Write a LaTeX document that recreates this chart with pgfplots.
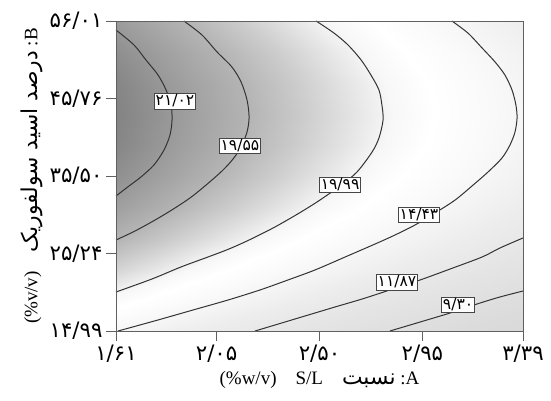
\documentclass[border=0pt]{standalone}
\usepackage{fontspec}
\setmainfont{Liberation Serif}
\newfontfamily\fa[Script=Arabic, Scale=1.15]{DejaVu Sans}
\usepackage{pgfplots}
\pgfplotsset{compat=1.18}
\TeXXeTstate=1
\tikzset{clabel/.style={fill=white, draw=gray!55!black, line width=0.6pt,
    inner sep=1.4pt, font=\fa\fontsize{13.5}{15}\selectfont}}

\begin{document}
\begin{tikzpicture}
\begin{axis}[
    width=407pt, height=310pt, scale only axis,
    xmin=1.61, xmax=3.39, ymin=14.99, ymax=56.01,
    xtick={1.61,2.05,2.50,2.95,3.39},
    xticklabels={۱/۶۱,۲/۰۵,۲/۵۰,۲/۹۵,۳/۳۹},
    ytick={14.99,25.24,35.50,45.76,56.01},
    yticklabels={۱۴/۹۹,۲۵/۲۴,۳۵/۵۰,۴۵/۷۶,۵۶/۰۱},
    ticklabel style={font=\fa\fontsize{18.5}{20}\selectfont},
    tick align=outside, tick pos=left, major tick length=10pt,
    axis line style={gray!75!black, line width=0.8pt},
    tick style={gray!75!black, line width=0.8pt},
    axis on top,
    xlabel={(\%w/v)\quad S/L\quad{\fa\beginR نسبت\endR} :A},
    ylabel={(\%v/v)\quad{\fa\beginR درصد اسید سولفوریک\endR} :B},
    label style={font=\fontsize{19}{21}\selectfont},
    xlabel style={yshift=-2pt},
    colormap={cgray}{gray(0cm)=(0.85); gray(1.5cm)=(0.86); gray(4.5cm)=(0.895);
      gray(6.5cm)=(0.93); gray(8.5cm)=(0.98); gray(9.5cm)=(1); gray(10.3cm)=(0.97);
      gray(11cm)=(0.9); gray(12cm)=(0.8); gray(13cm)=(0.71); gray(14.5cm)=(0.6);
      gray(16cm)=(0.48)},
    point meta min=6.5, point meta max=22.5,
]
% response values read off the shading and contours
\addplot[surf, shader=interp, mesh/rows=11, mesh/cols=11, point meta=explicit]
  table[x=x, y=y, meta=f] {
x y f
1.61 14.99 14.50
1.788 14.99 13.72
1.966 14.99 12.94
2.144 14.99 12.17
2.322 14.99 11.39
2.50 14.99 10.61
2.678 14.99 9.83
2.856 14.99 9.05
3.034 14.99 8.28
3.212 14.99 7.50
3.39 14.99 6.72

1.61 19.092 16.51
1.788 19.092 15.73
1.966 19.092 14.95
2.144 19.092 14.18
2.322 19.092 13.40
2.50 19.092 12.62
2.678 19.092 11.84
2.856 19.092 11.06
3.034 19.092 10.29
3.212 19.092 9.51
3.39 19.092 8.73

1.61 23.194 18.22
1.788 23.194 17.44
1.966 23.194 16.66
2.144 23.194 15.89
2.322 23.194 15.11
2.50 23.194 14.33
2.678 23.194 13.55
2.856 23.194 12.77
3.034 23.194 12.00
3.212 23.194 11.22
3.39 23.194 10.44

1.61 27.296 19.61
1.788 27.296 18.83
1.966 27.296 18.05
2.144 27.296 17.28
2.322 27.296 16.50
2.50 27.296 15.72
2.678 27.296 14.94
2.856 27.296 14.16
3.034 27.296 13.39
3.212 27.296 12.61
3.39 27.296 11.83

1.61 31.398 20.70
1.788 31.398 19.92
1.966 31.398 19.14
2.144 31.398 18.37
2.322 31.398 17.59
2.50 31.398 16.81
2.678 31.398 16.03
2.856 31.398 15.25
3.034 31.398 14.48
3.212 31.398 13.70
3.39 31.398 12.92

1.61 35.50 21.47
1.788 35.50 20.69
1.966 35.50 19.91
2.144 35.50 19.14
2.322 35.50 18.36
2.50 35.50 17.58
2.678 35.50 16.80
2.856 35.50 16.02
3.034 35.50 15.25
3.212 35.50 14.47
3.39 35.50 13.69

1.61 39.602 21.94
1.788 39.602 21.16
1.966 39.602 20.38
2.144 39.602 19.61
2.322 39.602 18.83
2.50 39.602 18.05
2.678 39.602 17.27
2.856 39.602 16.49
3.034 39.602 15.72
3.212 39.602 14.94
3.39 39.602 14.16

1.61 43.704 22.09
1.788 43.704 21.31
1.966 43.704 20.53
2.144 43.704 19.76
2.322 43.704 18.98
2.50 43.704 18.20
2.678 43.704 17.42
2.856 43.704 16.64
3.034 43.704 15.87
3.212 43.704 15.09
3.39 43.704 14.31

1.61 47.806 21.95
1.788 47.806 21.17
1.966 47.806 20.39
2.144 47.806 19.62
2.322 47.806 18.84
2.50 47.806 18.06
2.678 47.806 17.28
2.856 47.806 16.50
3.034 47.806 15.73
3.212 47.806 14.95
3.39 47.806 14.17

1.61 51.908 21.54
1.788 51.908 20.76
1.966 51.908 19.98
2.144 51.908 19.21
2.322 51.908 18.43
2.50 51.908 17.65
2.678 51.908 16.87
2.856 51.908 16.09
3.034 51.908 15.32
3.212 51.908 14.54
3.39 51.908 13.76

1.61 56.01 20.86
1.788 56.01 20.08
1.966 56.01 19.30
2.144 56.01 18.53
2.322 56.01 17.75
2.50 56.01 16.97
2.678 56.01 16.19
2.856 56.01 15.41
3.034 56.01 14.64
3.212 56.01 13.86
3.39 56.01 13.08
};

\pgfplotsset{cline/.style={gray!40!black, line width=1pt, smooth, tension=0.5}}
% 21.02
\addplot[cline] coordinates {
  (1.610,54.82) (1.689,52.83) (1.741,50.85) (1.794,48.86) (1.829,46.88)
  (1.851,44.89) (1.855,42.91) (1.846,40.92) (1.820,38.94) (1.776,36.96)
  (1.719,35.37) (1.667,34.18) (1.610,32.85)};
% 19.55
\addplot[cline] coordinates {
  (1.907,56.01) (1.986,54.16) (2.052,51.91) (2.117,49.92) (2.157,47.94)
  (2.183,45.56) (2.192,43.17) (2.179,40.92) (2.135,38.28) (2.069,36.03)
  (1.951,32.99) (1.868,31.27) (1.781,29.68) (1.693,28.22) (1.610,27.03)};
% 16.99
\addplot[cline] coordinates {
  (2.485,56.01) (2.563,54.42) (2.625,52.83) (2.682,50.85) (2.725,48.86)
  (2.760,46.88) (2.773,44.89) (2.778,42.91) (2.760,40.53) (2.730,38.68)
  (2.664,36.03) (2.590,34.18) (2.489,32.06) (2.397,30.34) (2.297,28.62)
  (2.192,27.03) (2.104,25.84) (2.012,24.78) (1.894,23.46) (1.767,21.87)
  (1.610,20.15)};
% 14.43
\addplot[cline] coordinates {
  (3.079,56.01) (3.149,54.42) (3.211,52.44) (3.268,50.58) (3.311,48.86)
  (3.342,46.88) (3.359,44.89) (3.364,43.17) (3.355,41.32) (3.333,39.60)
  (3.298,37.88) (3.237,36.03) (3.167,34.18) (3.093,32.32) (3.005,30.60)
  (2.918,29.02) (2.830,27.69) (2.743,26.50) (2.612,24.78) (2.480,23.06)
  (2.362,21.74) (2.240,20.42) (2.100,19.09) (1.947,17.77) (1.794,16.45)
  (1.619,14.99)};
% 11.87
\addplot[cline] coordinates {
  (3.390,27.30) (3.289,25.97) (3.211,24.78) (3.071,23.19) (2.940,21.74)
  (2.808,20.42) (2.686,19.22) (2.568,18.17) (2.480,17.37) (2.349,16.18)
  (2.218,14.99)};
% 9.30
\addplot[cline] coordinates {
  (3.390,20.28) (3.289,19.49) (3.202,18.69) (3.071,17.37) (2.940,16.18)
  (2.808,14.99)};

\node[clabel] at (axis cs:1.868,45.42) {۲۱/۰۲};
\node[clabel] at (axis cs:2.152,39.50) {۱۹/۵۵};
\node[clabel] at (axis cs:2.590,34.31) {۱۹/۹۹};
\node[clabel] at (axis cs:2.935,30.34) {۱۴/۴۳};
\node[clabel] at (axis cs:2.839,21.47) {۱۱/۸۷};
\node[clabel] at (axis cs:3.106,18.43) {۹/۳۰};
\end{axis}
\path ([shift={(-116pt,-70pt)}]current axis.south west)
  rectangle ([shift={(28pt,21pt)}]current axis.north east);
\end{tikzpicture}
\end{document}
